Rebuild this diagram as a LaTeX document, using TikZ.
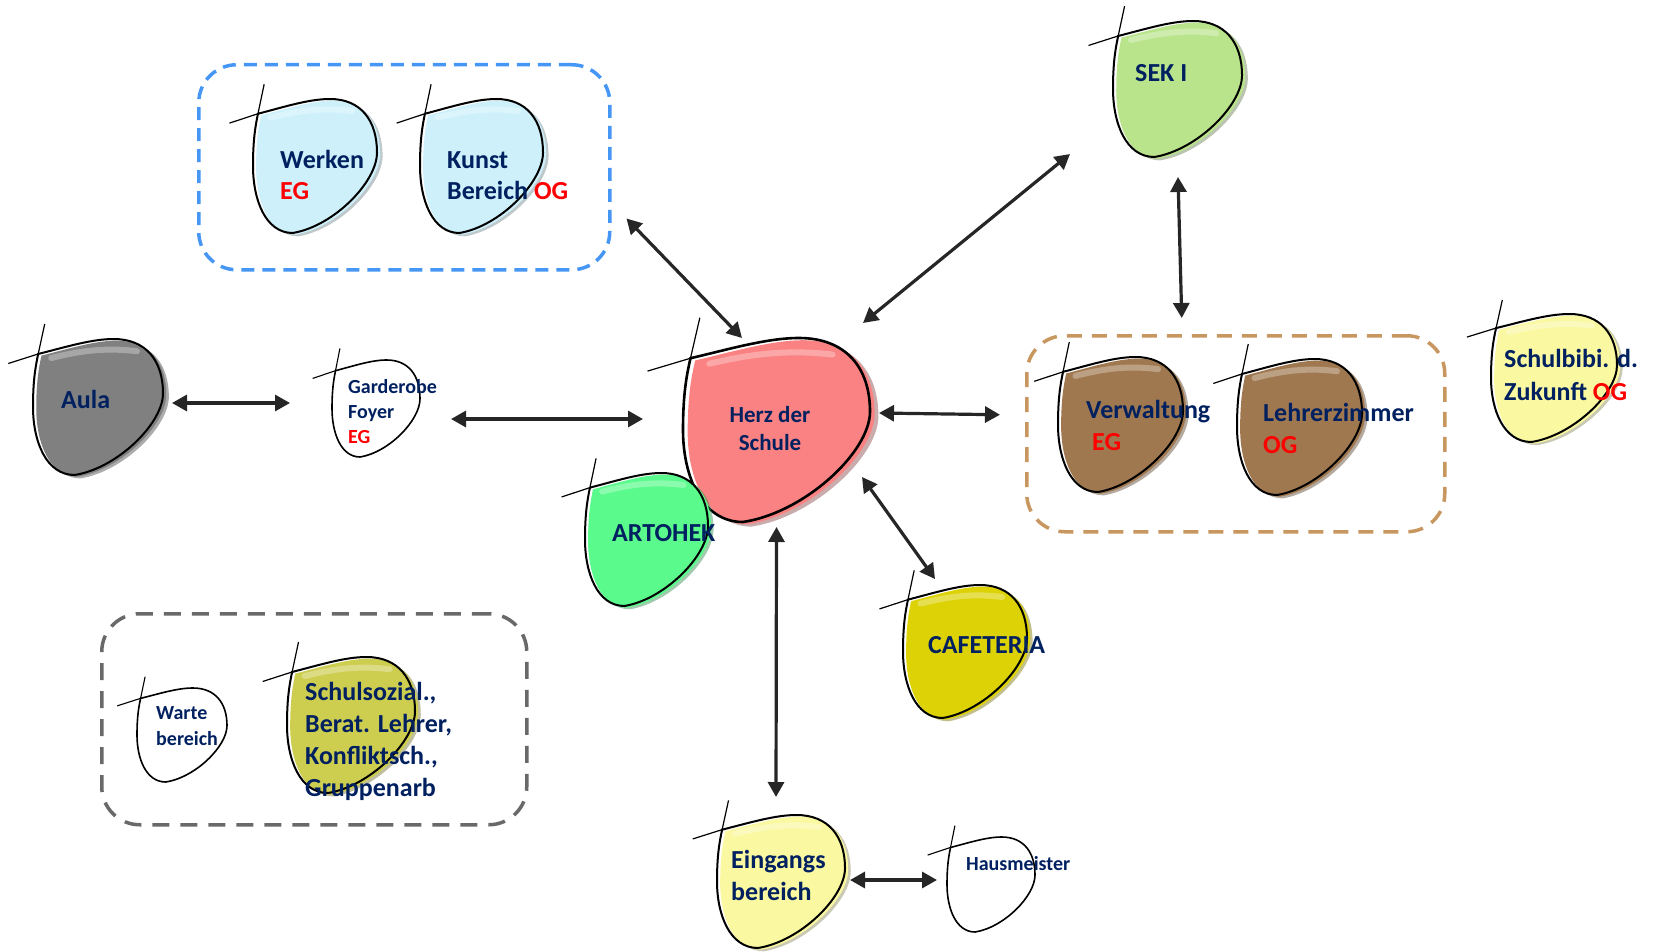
\documentclass[tikz,border=0pt]{standalone}
\usepackage{fontspec}
\setmainfont{Carlito}
\usepackage{xcolor}
\usetikzlibrary{arrows.meta}

\definecolor{textblau}{RGB}{0,32,96}
\definecolor{herzrot}{RGB}{250,130,130}
\definecolor{werkblau}{RGB}{205,240,250}
\definecolor{sekgruen}{RGB}{185,228,140}
\definecolor{braun}{RGB}{160,120,80}
\definecolor{hellgelb}{RGB}{250,248,160}
\definecolor{aulagrau}{RGB}{128,128,128}
\definecolor{olivgelb}{RGB}{205,205,80}
\definecolor{artogruen}{RGB}{90,250,140}
\definecolor{cafegelb}{RGB}{220,210,5}
\definecolor{rahmenblau}{RGB}{70,150,245}
\definecolor{rahmenbraun}{RGB}{200,150,95}
\definecolor{rahmengrau}{RGB}{105,105,105}

\newcommand{\blobpath}{(0.04,0.11) .. controls (0.25,0.06) and (0.45,0.0) .. (0.62,0.0)
  .. controls (0.87,0.0) and (1.0,0.16) .. (1.0,0.4)
  .. controls (1.0,0.62) and (0.65,0.95) .. (0.32,1.0)
  .. controls (0.1,1.0) and (0.0,0.75) .. (0.0,0.5)
  .. controls (0.0,0.3) and (0.02,0.2) .. (0.04,0.11) -- cycle}

% filled blob: [outline width]{name}{x}{y}{w}{h}{colour}
\newcommand{\blob}[7][2pt]{%
  \node[inner sep=0pt, outer sep=0pt, minimum width=#5pt, minimum height=#6pt, anchor=north west] (#2) at (#3,#4) {};
  \begin{scope}[shift={(#2.north west)}, x=#5pt, y=-#6pt]
    \fill[#7!55!black, opacity=0.45, shift={(0.045,0.025)}] \blobpath;
    \fill[#7, shift={(0.025,0.012)}] \blobpath;
    \draw[white, opacity=0.3, line width=6pt, line cap=round] (0.14,0.14) .. controls (0.35,0.09) and (0.55,0.06) .. (0.8,0.09);
    \draw[line width=#1] \blobpath;
    \draw[line width=1.2pt] (-0.19,0.18) -- (0.04,0.11) (0.04,0.11) -- (0.09,-0.11);
  \end{scope}
}
% empty blob: [outline width]{name}{x}{y}{w}{h}
\newcommand{\hohl}[6][1.6pt]{%
  \node[inner sep=0pt, outer sep=0pt, minimum width=#5pt, minimum height=#6pt, anchor=north west] (#2) at (#3,#4) {};
  \begin{scope}[shift={(#2.north west)}, x=#5pt, y=-#6pt]
    \draw[line width=#1] \blobpath;
    \draw[line width=1.1pt] (-0.22,0.19) -- (0.04,0.11) (0.04,0.11) -- (0.09,-0.12);
  \end{scope}
}

\tikzset{
  lbl/.style={inner sep=0pt, anchor=base west, align=left, text=textblau, font=\bfseries\fontsize{26}{32}\selectfont},
  klein/.style={font=\bfseries\fontsize{20}{25}\selectfont},
  rahmen/.style={inner sep=0pt, anchor=north west, line width=3.5pt, rounded corners=38pt},
  biarrow/.style={>={Triangle[length=15pt,width=16pt]}, <->, line width=3.2pt, draw=black!85},
}

\begin{document}
\begin{tikzpicture}[x=1pt, y=-1pt]
  \useasboundingbox (0,0) rectangle (1653,952);

  % dashed groups
  \node[rahmen, draw=rahmenblau, dash pattern=on 13pt off 8pt, minimum width=411pt, minimum height=205pt] (blaubox) at (197,63) {};
  \node[rahmen, draw=rahmenbraun, dash pattern=on 15pt off 10pt, minimum width=418pt, minimum height=196pt] (braunbox) at (1025,334) {};
  \node[rahmen, draw=rahmengrau, dash pattern=on 17pt off 11pt, minimum width=425pt, minimum height=211pt] (graubox) at (100,612) {};

  % top left group (labels sit on their last baseline)
  \blob{werken}{253}{99}{124}{134}{werkblau}
  \node[lbl] (werkenT) at (280,200) {Werken\\{\color{red}EG}};
  \blob{kunst}{420}{99}{123}{134}{werkblau}
  \node[lbl] (kunstT) at (447,200) {Kunst\\Bereich {\color{red}OG}};

  % SEK I
  \blob{sek}{1113}{21}{129}{136}{sekgruen}
  \node[lbl] (sekT) at (1135,82) {SEK I};

  % centre
  \blob[2.6pt]{herz}{683}{338}{187}{184}{herzrot}
  \node[lbl, anchor=base, align=center, font=\bfseries\fontsize{23}{28}\selectfont] (herzT) at (770,450) {Herz der\\Schule};
  \blob{artohek}{585}{473}{123}{133}{artogruen}
  \node[lbl] (artohekT) at (612,541) {ARTOHEK};
  \blob{cafe}{903}{585}{124}{133}{cafegelb}
  \node[lbl] (cafeT) at (928,653) {CAFETERIA};

  % right group
  \blob{verwaltung}{1058}{357}{125}{135}{braun}
  \node[lbl] (verwaltungT) at (1086,450) {Verwaltung\\\hspace{6pt}{\color{red}EG}};
  \blob{lehrer}{1237}{359}{125}{136}{braun}
  \node[lbl] (lehrerT) at (1263,453) {Lehrerzimmer\\{\color{red}OG}};
  \blob{bibi}{1491}{314}{126}{128}{hellgelb}
  \node[lbl, font=\bfseries\fontsize{26}{33}\selectfont] (bibiT) at (1504,400) {Schulbibi. d.\\Zukunft {\color{red}OG}};

  % left side
  \blob{aula}{33}{339}{130}{136}{aulagrau}
  \node[lbl] (aulaT) at (61,408) {Aula};
  \hohl{garderobe}{332}{360}{88}{97}
  \node[lbl, klein] (garderobeT) at (348,443) {Garderobe\\Foyer\\{\color{red}EG}};

  % bottom left group
  \hohl{warte}{137}{688}{90}{94}
  \node[lbl, klein, font=\bfseries\fontsize{20}{26}\selectfont] (warteT) at (156,745) {Warte\\bereich};
  \blob{sozial}{287}{657}{128}{136}{olivgelb}
  \node[lbl] (sozialT) at (305,796) {Schulsozial.,\\Berat. Lehrer,\\Konfliktsch.,\\Gruppenarb};

  % bottom
  \blob{eingang}{717}{815}{128}{133}{hellgelb}
  \node[lbl] (eingangT) at (731,900) {Eingangs\\bereich};
  \hohl{haus}{947}{837}{88}{95}
  \node[lbl, klein] (hausT) at (966,870) {Hausmeister};

  % connections
  \draw[biarrow] ([shift={(15,-53)}]blaubox.south east) -- ([shift={(-34.5,0)}]herz.north);
  \draw[biarrow] ([shift={(-7,-15)}]herz.north east) -- ([shift={(-43,-3)}]sek.south west);
  \draw[biarrow] ([shift={(0.5,20)}]sek.south) -- ([shift={(-54,-16)}]braunbox.north);
  \draw[biarrow] ([shift={(9,-17)}]herz.east) -- ([shift={(-25,-19)}]braunbox.west);
  \draw[biarrow] ([shift={(31,10.5)}]garderobe.east) -- ([shift={(-40,-11)}]herz.west);
  \draw[biarrow] ([shift={(9,-4)}]aula.east) -- ([shift={(-42,-5.5)}]garderobe.west);
  \draw[biarrow] ([shift={(-8,-45)}]herz.south east) -- ([shift={(32,-6)}]cafe.north west);
  \draw[biarrow] ([shift={(0,5)}]herz.south) -- ([shift={(-5,-18)}]eingang.north);
  \draw[biarrow] ([shift={(5,-1.5)}]eingang.east) -- ([shift={(-10,-4.5)}]haus.west);
\end{tikzpicture}
\end{document}
